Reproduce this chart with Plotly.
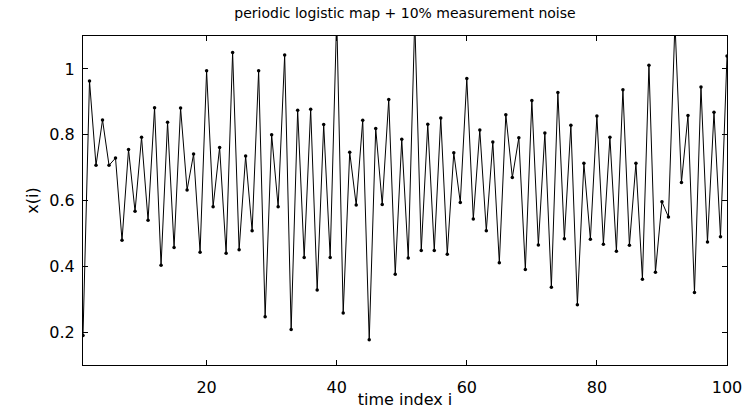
import plotly.graph_objects as go

# time index
idx = list(range(1, 101))

values = [
    0.190, 0.963, 0.707, 0.845, 0.707, 0.729, 0.479, 0.755, 0.567, 0.792,
    0.540, 0.882, 0.403, 0.838, 0.457, 0.881, 0.632, 0.741, 0.443, 0.994,
    0.581, 0.761, 0.440, 1.050, 0.450, 0.735, 0.508, 0.994, 0.247, 0.800,
    0.581, 1.042, 0.208, 0.874, 0.427, 0.877, 0.328, 0.831, 0.427, 1.160,
    0.258, 0.747, 0.586, 0.844, 0.177, 0.819, 0.588, 0.907, 0.376, 0.786,
    0.425, 1.150, 0.448, 0.832, 0.448, 0.851, 0.437, 0.745, 0.594, 0.971,
    0.544, 0.814, 0.508, 0.778, 0.411, 0.861, 0.670, 0.791, 0.390, 0.904,
    0.465, 0.805, 0.336, 0.928, 0.484, 0.829, 0.283, 0.713, 0.482, 0.857,
    0.467, 0.792, 0.446, 0.937, 0.464, 0.713, 0.361, 1.011, 0.382, 0.596,
    0.550, 1.140, 0.655, 0.858, 0.320, 0.945, 0.474, 0.868, 0.490, 1.039,
]

x_ticks = [20, 40, 60, 80, 100]
y_ticks = [0.2, 0.4, 0.6, 0.8, 1.0]
y_tick_text = ["0.2", "0.4", "0.6", "0.8", "1"]

title_text = "periodic logistic map + 10% measurement noise"
x_title = "time index i"
y_title = "x(i)"

FONT = "DejaVu Sans, Liberation Sans, Arial, sans-serif"

fig = go.Figure()
fig.add_trace(go.Scatter(
    x=idx, y=values, mode="lines+markers",
    line=dict(color="black", width=1),
    marker=dict(color="black", size=3.5),
    showlegend=False,
))

axis_common = dict(
    showline=True, linecolor="black", linewidth=1, mirror="allticks",
    ticks="inside", ticklen=5, tickcolor="black", tickwidth=1,
    showgrid=False, zeroline=False, automargin=False,
    tickfont=dict(family=FONT, size=16, color="black"),
)

fig.update_layout(
    width=751, height=409,
    margin=dict(l=83, r=24, t=36, b=44),
    paper_bgcolor="white", plot_bgcolor="white",
    font=dict(family=FONT, color="black"),
    title=dict(text=title_text, x=0.5, xref="paper", xanchor="center",
               y=1 - 13 / 409, yref="container", yanchor="middle",
               font=dict(family=FONT, size=14, color="black")),
    xaxis=dict(range=[1, 100], tickvals=x_ticks,
               title=dict(text=x_title, standoff=3,
                          font=dict(family=FONT, size=16, color="black")),
               ticklabelstandoff=8,
               **axis_common),
    yaxis=dict(range=[0.1, 1.1], tickvals=y_ticks, ticktext=y_tick_text,
               title=dict(text=y_title, standoff=6,
                          font=dict(family=FONT, size=16, color="black")),
               ticklabelstandoff=4,
               **axis_common),
)

fig.write_html("out.html")
